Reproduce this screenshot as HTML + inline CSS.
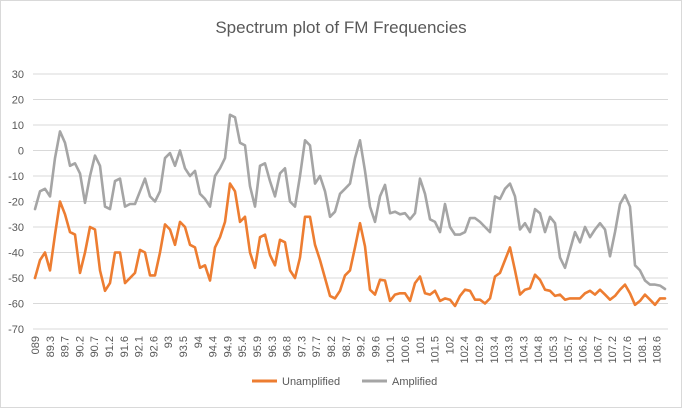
<!DOCTYPE html>
<html><head><meta charset="utf-8"><style>
body{margin:0;background:#fff;}
svg{display:block;font-family:"Liberation Sans",sans-serif;}
</style></head><body>
<svg width="682" height="408" viewBox="0 0 682 408">
<rect x="0.5" y="0.5" width="681" height="407" fill="#fff" stroke="#d9d9d9"/>
<text x="341" y="33" text-anchor="middle" font-size="17" fill="#595959">Spectrum plot of FM Frequencies</text>
<g id="grid"></g><g id="yt"></g><g id="xt"></g><g id="series"></g>
<g>
<line x1="252" y1="381" x2="277" y2="381" stroke="#ED7D31" stroke-width="3"/>
<text x="282" y="385" font-size="11" fill="#595959">Unamplified</text>
<line x1="362" y1="381" x2="387" y2="381" stroke="#A5A5A5" stroke-width="3"/>
<text x="392" y="385" font-size="11" fill="#595959">Amplified</text>
</g>
</svg>
<script>
const categories=["089","89.3","89.7","90.2","90.7","91.2","91.6","92.1","92.6","93","93.5","94","94.4","94.9","95.4","95.9","96.3","96.8","97.3","97.7","98.2","98.7","99.2","99.6","100.1","100.6","101","101.5","102","102.4","102.9","103.4","103.9","104.3","104.8","105.3","105.7","106.2","106.7","107.2","107.6","108.1","108.6"];
const yTicks=[30,20,10,0,-10,-20,-30,-40,-50,-60,-70];
const unamplified=[-50,-43,-40,-47,-33,-20,-25,-32,-33,-48,-40,-30,-31,-47,-55,-52,-40,-40,-52,-50,-48,-39,-40,-49,-49,-40,-29,-31,-37,-28,-30,-37,-38,-46,-45,-51,-38,-34,-28,-13,-16,-28,-26,-40,-46,-34,-33,-41,-45,-35,-36,-47,-50,-42,-26,-26,-37,-43,-50,-57,-58,-55,
-49,-47,-38,-28.5,-37.6,-54.6,-56.5,-50.7,-51,-59,-56.5,-56,-56,-59,-52,-49.4,-56,-56.5,-55,-59,-58,-58.5,-61,-57,-54.6,-55,-58.5,-58.5,-60,-58,-49.4,-48,-43,-38,-47,-56.5,-54.6,-54,-48.7,-50.7,-54.6,-55,-57,-56.5,-58.5,-58,-58,-58,-56,-55,-56.5,-54.6,-56.5,-58.5,-57,-54.6,-52.6,-56,-60.5,-59,-56.5,-58.5,-60.5,-58,-58];
const amplified=[-23,-16,-15,-18,-3,7.5,3,-6,-5,-9,-20.5,-10,-2,-6,-22,-23,-12,-11,-22,-21,-21,-16,-11,-18,-20,-16,-3,-1,-6,0,-7,-10,-8,-17,-19,-22,-10,-7,-3,14,13,3,2,-14,-22,-6,-5,-12,-18,-9,-7,-20,-22,-10,4,2,-13,-10,-16,-26,-24,-17,
-15,-13,-3,4,-8,-22,-28,-18,-13.5,-24.6,-24,-25,-24.6,-27,-24.6,-11,-17,-27,-28,-32,-21,-30,-33,-33,-32,-26.5,-26.5,-28,-30,-32,-18,-19,-15,-13,-18,-31,-28.5,-32,-23,-24.6,-32,-26,-28.5,-42,-46,-39,-32,-36,-30,-34,-31,-28.5,-31,-41.5,-32,-21,-17.5,-22,-45,-47,-51,-52.6,-52.6,-53,-54.3];
const NS='http://www.w3.org/2000/svg';
const X0=35,X1=665,yv=v=>74+(30-v)*2.55;
const xi=(i,n)=>X0+(X1-X0)*i/(n-1);
const xc=k=>35+14.8*k;
const grid=document.getElementById('grid'),yt=document.getElementById('yt'),xt=document.getElementById('xt'),ser=document.getElementById('series');
yTicks.forEach(v=>{
const l=document.createElementNS(NS,'line');
l.setAttribute('x1',33);l.setAttribute('x2',668);l.setAttribute('y1',yv(v));l.setAttribute('y2',yv(v));
l.setAttribute('stroke','#d9d9d9');l.setAttribute('stroke-width','1');


grid.appendChild(l);
const t=document.createElementNS(NS,'text');
t.setAttribute('x',24);t.setAttribute('y',yv(v)+4);t.setAttribute('text-anchor','end');
t.setAttribute('font-size','11');t.setAttribute('fill','#595959');t.textContent=v;


yt.appendChild(t);
});
categories.forEach((c,k)=>{
const t=document.createElementNS(NS,'text');
const x=xc(k)+4,y=336;
t.setAttribute('x',x);t.setAttribute('y',y);t.setAttribute('text-anchor','end');
t.setAttribute('transform','rotate(-90 '+x+' '+y+')');
t.setAttribute('font-size','11');t.setAttribute('fill','#595959');t.textContent=c;


xt.appendChild(t);
});
function drawLine(arr,color,name){
const p=document.createElementNS(NS,'polyline');
p.setAttribute('points',arr.map((v,i)=>xi(i,arr.length).toFixed(1)+','+yv(v).toFixed(1)).join(' '));
p.setAttribute('fill','none');p.setAttribute('stroke',color);p.setAttribute('stroke-width','2.6');
p.setAttribute('stroke-linejoin','round');p.setAttribute('stroke-linecap','round');


ser.appendChild(p);
}
drawLine(amplified,'#A5A5A5','amplified-line');
drawLine(unamplified,'#ED7D31','unamplified-line');
</script>
</body></html>
